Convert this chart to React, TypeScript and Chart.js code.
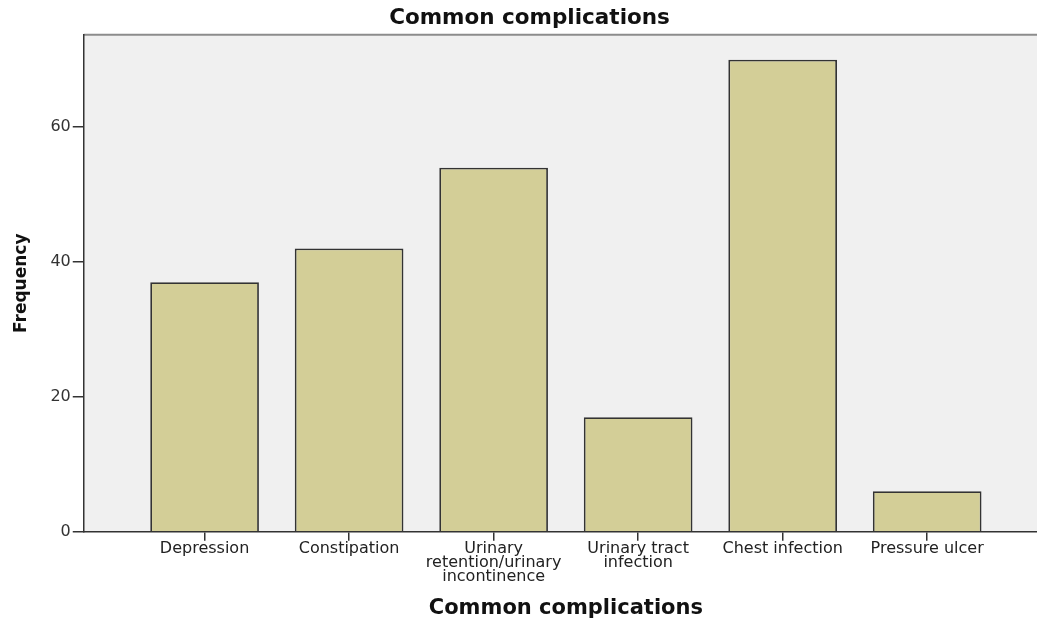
import React, { useEffect, useRef } from "react";
import { Chart, registerables } from "chart.js";

Chart.register(...registerables);

const chartTitle = "Common complications";
const xAxisTitle = "Common complications";
const yAxisTitle = "Frequency";
const categories: string[][] = [
  ["Depression"],
  ["Constipation"],
  ["Urinary", "retention/urinary", "incontinence"],
  ["Urinary tract", "infection"],
  ["Chest infection"],
  ["Pressure ulcer"],
];
const frequencies: number[] = [37, 42, 54, 17, 70, 6];
const yTickStep = 20;
const yMax = 73.7;

const plotBackground = {
  id: "plotBackground",
  beforeDraw(chart: any) {
    const { ctx, chartArea } = chart;
    const { left, top, right, bottom } = chartArea;
    ctx.save();
    ctx.fillStyle = "#f0f0f0";
    ctx.fillRect(left, top, right - left, bottom - top);
    ctx.strokeStyle = "#8c8c8c";
    ctx.lineWidth = 2;
    ctx.beginPath();
    ctx.moveTo(left, top);
    ctx.lineTo(right, top);
    ctx.stroke();
    ctx.restore();
  },
};

export default function App() {
  const canvasRef = useRef<HTMLCanvasElement | null>(null);

  useEffect(() => {
    if (!canvasRef.current) return;
    const points = frequencies.map((v, i) => ({ x: i + 1, y: v }));
    const chart = new Chart(canvasRef.current, {
      type: "bar",
      data: {
        datasets: [
          {
            label: yAxisTitle,
            data: points as any,
            backgroundColor: "#d3ce97",
            borderColor: "#333",
            borderWidth: 1.8,
            barPercentage: 0.752,
            categoryPercentage: 1,
          },
        ],
      },
      options: {
        animation: false,
        responsive: true,
        maintainAspectRatio: false,
        layout: { padding: { left: 11, right: 19, top: 0, bottom: 0 } },
        plugins: {
          legend: { display: false },
          tooltip: { enabled: false },
          title: {
            display: true,
            text: chartTitle,
            color: "#111",
            font: { family: "DejaVu Sans", size: 21.5, weight: "bold", lineHeight: 1.2 },
            padding: { top: 6, bottom: 3 },
          },
        },
        scales: {
          x: {
            type: "linear",
            min: 0.164,
            max: 6.836,
            offset: false,
            afterBuildTicks: (scale: any) => {
              scale.ticks = categories.map((_, i) => ({ value: i + 1 }));
            },
            ticks: {
              autoSkip: false,
              maxRotation: 0,
              minRotation: 0,
              color: "#222",
              padding: 1,
              font: { family: "DejaVu Sans", size: 16, lineHeight: 0.88 },
              callback: (value: any) => {
                const idx = Math.round(Number(value)) - 1;
                const lbl = categories[idx];
                return lbl ? (lbl.length === 1 ? lbl[0] : lbl) : "";
              },
            },
            grid: {
              offset: false,
              drawOnChartArea: false,
              drawTicks: true,
              tickLength: 9,
              color: "#333",
              lineWidth: 1.5,
            },
            border: { display: true, color: "#333", width: 1.5 },
            title: {
              display: true,
              text: xAxisTitle,
              color: "#111",
              font: { family: "DejaVu Sans", size: 21, weight: "bold", lineHeight: 1.0 },
              padding: { top: 13, bottom: 0 },
            },
          },
          y: {
            type: "linear",
            min: 0,
            max: yMax,
            ticks: {
              stepSize: yTickStep,
              includeBounds: false,
              color: "#333",
              padding: 2,
              font: { family: "DejaVu Sans", size: 16 },
            },
            grid: {
              drawOnChartArea: false,
              drawTicks: true,
              tickLength: 11,
              color: "#333",
              lineWidth: 1.5,
            },
            border: { display: true, color: "#333", width: 1.5 },
            title: {
              display: true,
              text: yAxisTitle,
              color: "#111",
              font: { family: "DejaVu Sans", size: 17, weight: "bold", lineHeight: 1.2 },
              padding: { top: 0, bottom: 17 },
            },
          },
        },
      },
      plugins: [plotBackground],
    });
    return () => chart.destroy();
  }, []);

  return (
    <div
      style={{
        position: "fixed",
        left: 0,
        top: 0,
        width: 1037,
        height: 619,
        overflow: "hidden",
        background: "#fff",
      }}
    >
      <div style={{ position: "relative", width: 1067, height: 619 }}>
        <canvas ref={canvasRef} />
      </div>
    </div>
  );
}
